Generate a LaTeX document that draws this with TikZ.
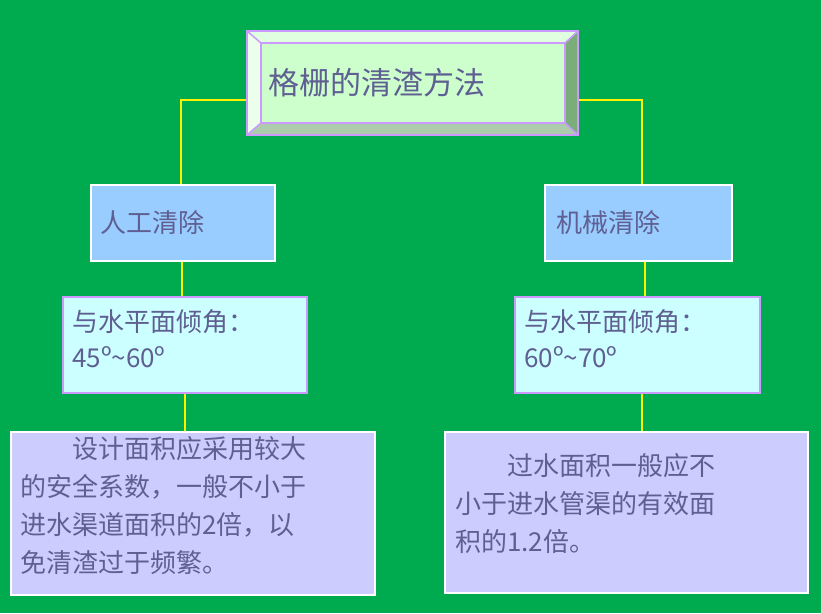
\documentclass[tikz,border=0pt]{standalone}
\usepackage{fontspec}
\setmainfont{Noto Sans CJK SC}
\begin{document}
\begin{tikzpicture}[x=1pt,y=-1pt,
  txt/.style={text=tcol,font=\fontsize{26}{36}\selectfont,anchor=north west,align=left,inner sep=0},
  conn/.style={draw=yellow,line width=2.5pt}]
\definecolor{bg}{HTML}{00AA4F}
\definecolor{tcol}{HTML}{5F5F92}
\definecolor{lb}{HTML}{99CCFF}
\definecolor{cy}{HTML}{CCFFFF}
\definecolor{lv}{HTML}{CCCCFF}
\definecolor{pur}{HTML}{CC99FF}
\definecolor{tg}{HTML}{CCFFCC}
\fill[bg] (0,0) rectangle (821,613);
\useasboundingbox (0,0) rectangle (821,613);
% connectors
\coordinate (tl) at (247,100); \coordinate (tr) at (578,100);
\coordinate (cl) at (181,100); \coordinate (cr) at (642,100);
\draw[conn] (tl) -- (cl) -- (181,185);
\draw[conn] (tr) -- (cr) -- (642,185);
\draw[conn] (182,261) -- (182,297);
\draw[conn] (645,261) -- (645,297);
\draw[conn] (185,393) -- (185,432);
\draw[conn] (642,393) -- (642,432);
% title bevel
\fill[tg!60!white] (247,31) -- (578,31) -- (565,43) -- (261,43) -- cycle;
\fill[tg!40!white] (247,31) -- (261,43) -- (261,123) -- (247,135) -- cycle;
\fill[green!20!gray!80!tg] (578,31) -- (578,135) -- (565,123) -- (565,43) -- cycle;
\fill[tg!60!gray] (247,135) -- (578,135) -- (565,123) -- (261,123) -- cycle;
\fill[tg] (261,43) rectangle (565,123);
\draw[pur,line width=2pt] (247,31) rectangle (578,135);
\draw[pur,line width=2pt] (261,43) rectangle (565,123);
\draw[pur,line width=1.5pt] (247,31) -- (261,43) (578,31) -- (565,43) (247,135) -- (261,123) (578,135) -- (565,123);
\node[txt,font=\fontsize{31}{36}\selectfont,anchor=west] (title) at (268,83) {格栅的清渣方法};
% level 2
\draw[white,fill=lb,line width=2pt] (91,185) rectangle (275,261);
\node[txt,anchor=west] (a1) at (100,223) {人工清除};
\draw[white,fill=lb,line width=2pt] (545,185) rectangle (732,261);
\node[txt,anchor=west] (b1) at (556,223) {机械清除};
% level 3
\draw[pur,fill=cy,line width=2pt] (63,297) rectangle (307,393);
\node[txt] (a2) at (72,309) {与水平面倾角：\\45º\textasciitilde60º};
\draw[pur,fill=cy,line width=2pt] (515,297) rectangle (760,393);
\node[txt] (b2) at (524,309) {与水平面倾角：\\60º\textasciitilde70º};
% level 4
\draw[white,fill=lv,line width=2pt] (11,432) rectangle (375,595);
\node[txt,font=\fontsize{26}{38}\selectfont] (a3) at (20,436) {\hspace{52pt}设计面积应采用较大\\的安全系数，一般不小于\\进水渠道面积的2倍，以\\免清渣过于频繁。};
\draw[white,fill=lv,line width=2pt] (445,432) rectangle (808,593);
\node[txt,font=\fontsize{26}{38}\selectfont] (b3) at (455,453) {\hspace{52pt}过水面积一般应不\\小于进水管渠的有效面\\积的1.2倍。};
\end{tikzpicture}
\end{document}
